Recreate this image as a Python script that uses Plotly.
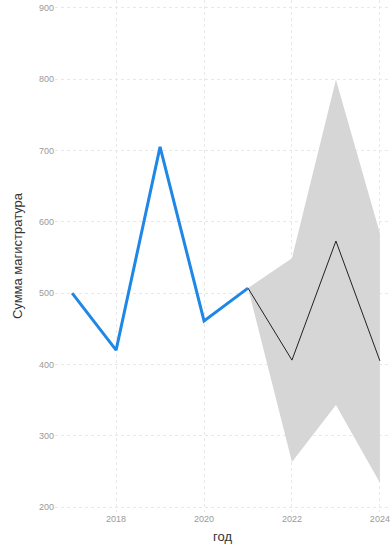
import plotly.graph_objects as go

# Фактические значения
years_fact = [2017, 2018, 2019, 2020, 2021]
sum_fact = [500, 420, 705, 461, 507]

# Прогноз с доверительным интервалом
years_fc = [2021, 2022, 2023, 2024]
sum_fc = [507, 406, 573, 405]
upper_fc = [507, 549, 799, 584]
lower_fc = [507, 263, 343, 234]

fig = go.Figure()

# Доверительная полоса
fig.add_trace(go.Scatter(
    x=years_fc + years_fc[::-1],
    y=upper_fc + lower_fc[::-1],
    fill="toself", fillcolor="#d6d6d6",
    line=dict(width=0), mode="lines", hoverinfo="skip", showlegend=False,
))
fig.add_trace(go.Scatter(
    x=years_fc, y=sum_fc, mode="lines",
    line=dict(color="#222222", width=1), showlegend=False,
))
fig.add_trace(go.Scatter(
    x=years_fact, y=sum_fact, mode="lines",
    line=dict(color="#1f87e5", width=3), showlegend=False,
))

font_name = "Liberation Sans"
grid = dict(showgrid=True, gridcolor="#e8e8e8", griddash="dot", gridwidth=1,
            zeroline=False, showline=False, ticks="",
            tickfont=dict(family=font_name, size=9, color="#9a9a9a"))

fig.update_layout(
    width=390, height=545,
    margin=dict(l=55, r=0, t=0, b=33),
    plot_bgcolor="white", paper_bgcolor="white",
    xaxis=dict(range=[2016.61, 2024.23], tickvals=[2018, 2020, 2022, 2024],
               ticklabeloverflow="allow",
               title=dict(text="год", standoff=8,
                          font=dict(family=font_name, size=13, color="#333333")),
               **grid),
    yaxis=dict(range=[193, 911], tickvals=[200, 300, 400, 500, 600, 700, 800, 900],
               title=dict(text="Сумма магистратура", standoff=13,
                          font=dict(family=font_name, size=13, color="#333333")),
               **grid),
)

fig.write_html("out.html")
